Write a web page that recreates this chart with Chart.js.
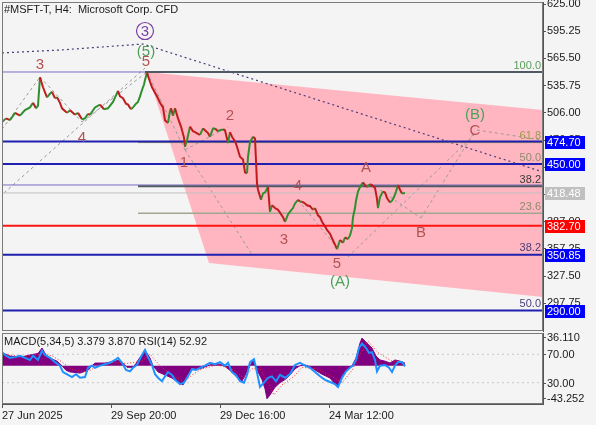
<!DOCTYPE html>
<html>
<head>
<meta charset="utf-8">
<script src="https://cdn.jsdelivr.net/npm/chart.js@4.4.1/dist/chart.umd.min.js"></script>
<style>
  html, body { margin: 0; padding: 0; background: #f4f4f4; }
  #wrap { position: relative; width: 596px; height: 425px; overflow: hidden; background: #f4f4f4; }
  #main { position: absolute; left: 0; top: 0; }
  #sub { position: absolute; left: 0; top: 332px; }
</style>
</head>
<body>
<div id="wrap">
  <canvas id="main" width="596" height="332"></canvas>
  <canvas id="sub" width="596" height="93"></canvas>
</div>
<script>
/* price panel data (x = bar position, y = price) */
const priceBars = [0,4,8,13,18,23,28,31,34,36, 38,41,45,48,50,53,55,58,60,63,
  65,68,70,73,76,80,83,86,88,93, 98,102,106,111,116,118,121,124,126,129,
  131,134,136,138,140,142,143,145,147,150, 153,156,158,161,163,166,168,169,171,173,
  176,179,182,183,185,188,191,193,196,198, 201,203,206,208,211,213,216,218,221,223,
  226,228,230,233,235,238,241,243,245,246, 248,251,253,255,256,259,261,263,266,268,
  270,273,276,278,281,283,286,288,291,293, 296,298,300,303,305,308,311,313,316,318,
  320,323,325,328,330,333,335,338,341,343, 346,348,350,351,353,354,356,358,361,363,
  365,368,370,373,375,376,378,381,383,385, 388,390,392,394,396,398,400,403];
const priceClose = [496,500,498,506,503,509,512,517,511,514, 545,534,523,527,529,522,523,517,511,508,
  506,509,507,504,506,499,500,505,504,512, 515,510,511,518,530,524,522,516,515,510,
  512,516,518,524,531,537,542,550,543,534, 528,522,517,512,498,495,508,511,503,511,
  500,491,479,469,476,491,486,485,483,482, 489,487,484,480,489,489,486,487,488,487,
  473,485,480,475,469,458,455,441,440,458, 474,480,478,429,422,411,418,419,425,398,
  405,402,400,397,392,387,395,398,402,407, 411,409,409,407,405,404,400,402,394,392,
  387,382,378,374,369,362,357,367,364,370, 368,372,380,392,402,410,420,425,430,427,
  425,428,427,424,412,402,414,420,419,413, 408,410,414,420,427,422,418,418.48];

const axisTicks = [625, 595.25, 565.5, 535.75, 506, 476.25, 446.5, 416.75, 387, 357.25, 327.5, 297.75];
const levelPrices = [474.70, 450.00, 418.48, 382.70, 350.85, 290.00];
const fibGreenPrices = [550.7, 473.5, 449.7, 425.9, 396.4];
const fibGreenStart = [143, 136, 136, 136, 136];
const fibPurplePrices = [550.7, 427.2];
const fibText = ['100.0', '61.8', '50.0', '38.2', '23.6', '38.2', '50.0'];
const fibTextPrice = [550.7, 473.5, 449.7, 425.9, 396.4, 350.85, 290.0];

const channelBar = [145, 541, 541, 207];
const channelPrice = [550.7, 509.2, 304.8, 342.0];

const trendBar = [0, 58, 141, 541];
const trendPrice = [571.5, 574.7, 581.3, 441.4];

const waveLineBars = [[0,38],[38,80],[80,145],[2,143],[145,183],[183,226],[183,251],
  [296,336],[346,473],[378,419],[419,473],[475,539]];
const waveLinePrices = [[488,545.2],[545.2,496.1],[496.1,550.7],[418.5,555],[550.7,465.5],[465.5,490.6],[465.5,349.6],
  [410.8,357.3],[348.5,482.9],[421.7,391.1],[391.1,486.2],[487.3,476.4]];

const waveText = ['3','5','(5)','4','1','2','3','4','5','(A)','A','B','C','(B)'];
const waveBar = [38,144,144,80,182,228,282,296,335,338,364,419,473,473];
const wavePrice = [558.3,561.6,572.6,478.6,451.2,502.6,367.1,426.1,340.9,321.2,445.8,374.7,486.2,503.7];
const circleBar = 143, circlePrice = 595.5;

/* indicator panel data */
const macdBars = [0,8,18,28,36,40,44,48,55,60, 64,68,78,86,90,93,103,113,118,122,
  125,131,134,138,143,148,151,156,163,170, 176,181,185,190,198,206,210,218,223,228,
  235,240,244,248,251,254,256,260,263,265, 268,273,278,283,288,293,298,303,308,313,
  320,328,335,340,345,350,354,358,360,363, 366,370,374,378,383,388,393,398,403];
const macdHist = [17,12.6,11,14,16,23,14,10,6,0, -6,-8,-9.5,-6,0,3.5,3.5,6,7.5,2,
  -2,-2,3,11,20,10,0,-8,-12,-16, -21,-25,-13,-3,-4,0,2,2,-1,-6,
  -15,-20,-10,0,7,-2,-8,-18,-30,-43, -38,-28,-22,-18,-12,-4,0,1,-1,-5.5,
  -11,-16,-27,-13,-5.5,0,10,29.5,36,32, 28,23,12.6,7.5,6,3.5,7.5,6,3.379];
const signalBars = [0,20,40,50,60,70,85,95,110,125,140,148,158,170,182,190,200,215,230,242,250,258,265,272,280,292,300,315,330,340,350,358,366,376,390,403];
const signalVals = [15,12,15,13,5,-5,-8,-1,4,3,6,15,0,-12,-21,-12,-4,1,-4,-16,-4,-4,-20,-38,-25,-14,-2,-4,-14,-22,-6,15,32,17,6,3.87];
const rsiBars = [0,3,8,13,18,23,28,31,36,40, 43,48,53,58,61,66,70,74,78,83,
  86,90,93,98,103,108,113,116,120,124, 128,131,135,140,143,146,150,153,156,160,
  163,166,170,173,178,182,186,190,194,198, 203,208,213,218,223,226,230,234,238,242,
  245,248,252,254,258,262,266,270,274,278, 283,288,293,298,303,308,313,318,323,328,
  333,336,340,344,348,351,354,357,360,364, 367,370,373,375,378,383,387,390,393,396,
  400,403];
const rsiVals = [73,69,65,66,68,65,62,68,62,75, 69,65,59,54,45,41,38,42,37,38,
  51,54,51,54,56,58,62,65,58,48, 46,51,55,69,76,66,55,42,37,32,
  39,45,41,34,28,30,39,49,48,51, 54,58,56,59,54,58,45,41,32,30,
  41,59,63,51,24,30,37,39,32,41, 37,42,55,58,54,51,45,39,34,31,
  28,24,37,46,51,54,62,79,85,79, 72,73,62,46,54,55,51,45,54,59,
  59,52.92];
const rsiLevels = [70, 30];
const macdTicks = [36.110, -43.252];

const xTickBars = [0, 109, 218, 327];
const xTickLabels = ['27 Jun 2025', '29 Sep 20:00', '29 Dec 16:00', '24 Mar 12:00'];

/* styles */
Chart.defaults.font.family = 'Liberation Sans';
Chart.defaults.font.size = 11;
const FONT = '11px "Liberation Sans"';
const levelColors = ['#1f1fb0', '#1f1fb0', '#c0c0c0', '#ff1414', '#1f1fb0', '#1f1fb0'];
const levelWidths = [2, 2, 1, 2, 2, 2];
const levelBoxColors = ['#0000ff', '#0000ff', '#c0c0c0', '#ff0000', '#0000ff', '#0000ff'];
const fibGreenColors = ['#505a64', '#9a9a50', '#8c8c6e', '#505a64', '#a0a890'];
const fibGreenWidths = [2, 1, 1, 2, 1.5];
const fibTextColors = ['#5b9b5b', '#9a9a4a', '#8c8c6e', '#3a3a3a', '#8c8c6e', '#4b3c7a', '#4b3c7a'];

const pts = (xs, ys) => xs.map((v, i) => ({x: v, y: ys[i]}));
const hline = (x0, x1, p, color, w) => ({
  data: [{x: x0, y: p}, {x: x1, y: p}], borderColor: color, borderWidth: w,
  pointRadius: 0, fill: false
});

const datasets = [];
datasets.push({
  data: pts(priceBars, priceClose), borderWidth: 2, pointRadius: 0, tension: 0,
  borderColor: '#c01c1c',
  segment: { borderColor: c => c.p1.parsed.y >= c.p0.parsed.y ? '#2f8f2f' : '#c01c1c' }
});
levelPrices.forEach((p, i) => datasets.push(hline(0, 541, p, levelColors[i], levelWidths[i])));
fibGreenPrices.forEach((p, i) => datasets.push(hline(fibGreenStart[i], 541, p, fibGreenColors[i], fibGreenWidths[i])));
fibPurplePrices.forEach(p => datasets.push(hline(0, 541, p, '#7a6ac8', 1)));
waveLineBars.forEach((b, i) => datasets.push({
  data: pts(b, waveLinePrices[i]), borderColor: '#9a9a9a', borderWidth: 1,
  borderDash: [3, 3], pointRadius: 0
}));
datasets.push({
  data: pts(trendBar, trendPrice), borderColor: '#4b3c7a', borderWidth: 1.2,
  borderDash: [2, 3], pointRadius: 0
});

const mainMarks = {
  id: 'mainMarks',
  beforeDatasetsDraw(chart) {
    const {ctx, scales: {x, y}} = chart;
    ctx.save();
    ctx.beginPath();
    channelBar.forEach((b, i) => {
      const px = x.getPixelForValue(b), py = y.getPixelForValue(channelPrice[i]);
      if (i) ctx.lineTo(px, py); else ctx.moveTo(px, py);
    });
    ctx.closePath();
    ctx.fillStyle = '#ffb6c1';
    ctx.fill();
    ctx.restore();
  },
  afterDatasetsDraw(chart) {
    const {ctx, chartArea: a, scales: {x, y}} = chart;
    ctx.save();
    // frame
    ctx.strokeStyle = '#7a7a7a';
    ctx.lineWidth = 1;
    ctx.strokeRect(a.left + 0.5, a.top + 0.5, a.width - 1, a.height - 1);
    // title
    ctx.font = FONT;
    ctx.fillStyle = '#1a1a1a';
    ctx.textBaseline = 'middle';
    ctx.textAlign = 'left';
    ctx.fillText('#MSFT-T, H4:  Microsoft Corp. CFD', 4, 10);
    // fib level texts
    ctx.textAlign = 'right';
    ctx.textBaseline = 'bottom';
    fibText.forEach((t, i) => {
      ctx.fillStyle = fibTextColors[i];
      ctx.fillText(t, x.getPixelForValue(539), y.getPixelForValue(fibTextPrice[i]) - 1);
    });
    // wave labels
    ctx.textAlign = 'center';
    ctx.textBaseline = 'middle';
    ctx.font = '15px "Liberation Sans"';
    waveText.forEach((t, i) => {
      ctx.fillStyle = t[0] === '(' ? '#4f9f5a' : '#b25252';
      ctx.fillText(t, x.getPixelForValue(waveBar[i]), y.getPixelForValue(wavePrice[i]));
    });
    // circled wave
    const cx = x.getPixelForValue(circleBar), cy = y.getPixelForValue(circlePrice);
    ctx.strokeStyle = '#7b3fa6';
    ctx.lineWidth = 1.2;
    ctx.beginPath();
    ctx.arc(cx, cy, 8.5, 0, Math.PI * 2);
    ctx.stroke();
    ctx.fillStyle = '#7b3fa6';
    ctx.fillText('3', cx, cy + 0.5);
    // price boxes on the axis
    ctx.font = FONT;
    ctx.textAlign = 'left';
    levelPrices.forEach((p, i) => {
      const py = Math.round(y.getPixelForValue(p));
      ctx.fillStyle = levelBoxColors[i];
      ctx.fillRect(545, py - 6, 40, 13);
      ctx.fillStyle = '#ffffff';
      ctx.fillText(p.toFixed(2), 547, py + 0.5);
    });
    ctx.restore();
  }
};

new Chart(document.getElementById('main'), {
  type: 'line',
  data: { datasets },
  options: {
    responsive: false,
    animation: false,
    layout: { padding: { left: 2, top: 2, bottom: 1, right: 0 } },
    plugins: { legend: { display: false }, tooltip: { enabled: false } },
    scales: {
      x: { type: 'linear', min: 0, max: 541, display: false },
      y: {
        type: 'linear', position: 'right', min: 267.6, max: 627.2,
        afterBuildTicks: s => { s.ticks = axisTicks.map(v => ({ value: v })); },
        afterFit: s => { s.width = 53; s.paddingTop = 0; s.paddingBottom = 0; },
        grid: { drawOnChartArea: false, drawTicks: true, tickLength: 3, color: '#555' },
        border: { display: true, color: '#555', width: 1 },
        ticks: { padding: 1, color: '#1a1a1a', callback: v => v.toFixed(2) }
      }
    }
  },
  plugins: [mainMarks]
});

const subMarks = {
  id: 'subMarks',
  afterDatasetsDraw(chart) {
    const {ctx, chartArea: a, scales: {y2}} = chart;
    ctx.save();
    ctx.strokeStyle = '#7a7a7a';
    ctx.lineWidth = 1;
    ctx.strokeRect(a.left + 0.5, a.top + 0.5, a.width - 1, a.height - 1);
    ctx.font = FONT;
    ctx.fillStyle = '#1a1a1a';
    ctx.textBaseline = 'middle';
    ctx.textAlign = 'left';
    ctx.fillText('MACD(5,34,5) 3.379 3.870 RSI(14) 52.92', 4, 10);
    ctx.strokeStyle = '#555';
    rsiLevels.forEach(l => {
      const py = Math.round(y2.getPixelForValue(l)) + 0.5;
      ctx.beginPath();
      ctx.moveTo(a.right, py);
      ctx.lineTo(a.right + 3, py);
      ctx.stroke();
      ctx.fillText(l.toFixed(2), a.right + 4, py);
    });
    ctx.restore();
  }
};

new Chart(document.getElementById('sub'), {
  type: 'line',
  data: {
    datasets: [
      { data: pts(rsiBars, rsiVals), yAxisID: 'y2', borderColor: '#1e90ff', borderWidth: 2, pointRadius: 0 },
      { data: pts(signalBars, signalVals), yAxisID: 'y', borderColor: '#ff2a2a', borderWidth: 1, borderDash: [1, 2], pointRadius: 0 },
      { data: pts(macdBars, macdHist), yAxisID: 'y', borderColor: '#800080', backgroundColor: '#800080',
        borderWidth: 1, pointRadius: 0, fill: 'origin' },
      { data: pts([0, 541], [rsiLevels[0], rsiLevels[0]]), yAxisID: 'y2', borderColor: '#c8c8c8', borderWidth: 1, borderDash: [2, 3], pointRadius: 0 },
      { data: pts([0, 541], [rsiLevels[1], rsiLevels[1]]), yAxisID: 'y2', borderColor: '#c8c8c8', borderWidth: 1, borderDash: [2, 3], pointRadius: 0 }
    ]
  },
  options: {
    responsive: false,
    animation: false,
    layout: { padding: { left: 2, top: 1, bottom: 0, right: 0 } },
    plugins: { legend: { display: false }, tooltip: { enabled: false } },
    scales: {
      x: {
        type: 'linear', min: 0, max: 541,
        afterBuildTicks: s => { s.ticks = xTickBars.map(v => ({ value: v })); },
        afterFit: s => { s.height = 21; s.paddingLeft = 0; s.paddingRight = 0; },
        grid: { drawOnChartArea: false, drawTicks: true, tickLength: 4, color: '#555' },
        border: { display: true, color: '#555' },
        ticks: { align: 'start', maxRotation: 0, autoSkip: false, padding: 1, color: '#1a1a1a',
          callback: (v, i) => xTickLabels[i] }
      },
      y: {
        type: 'linear', position: 'right', min: -49.76, max: 42.6,
        afterBuildTicks: s => { s.ticks = macdTicks.map(v => ({ value: v })); },
        afterFit: s => { s.width = 53; s.paddingTop = 0; s.paddingBottom = 0; },
        grid: { drawOnChartArea: false, drawTicks: true, tickLength: 3, color: '#555' },
        border: { display: true, color: '#555' },
        ticks: { padding: 1, color: '#1a1a1a', callback: v => v.toFixed(3) }
      },
      y2: { type: 'linear', min: 0, max: 100, display: false }
    }
  },
  plugins: [subMarks]
});
</script>
</body>
</html>
